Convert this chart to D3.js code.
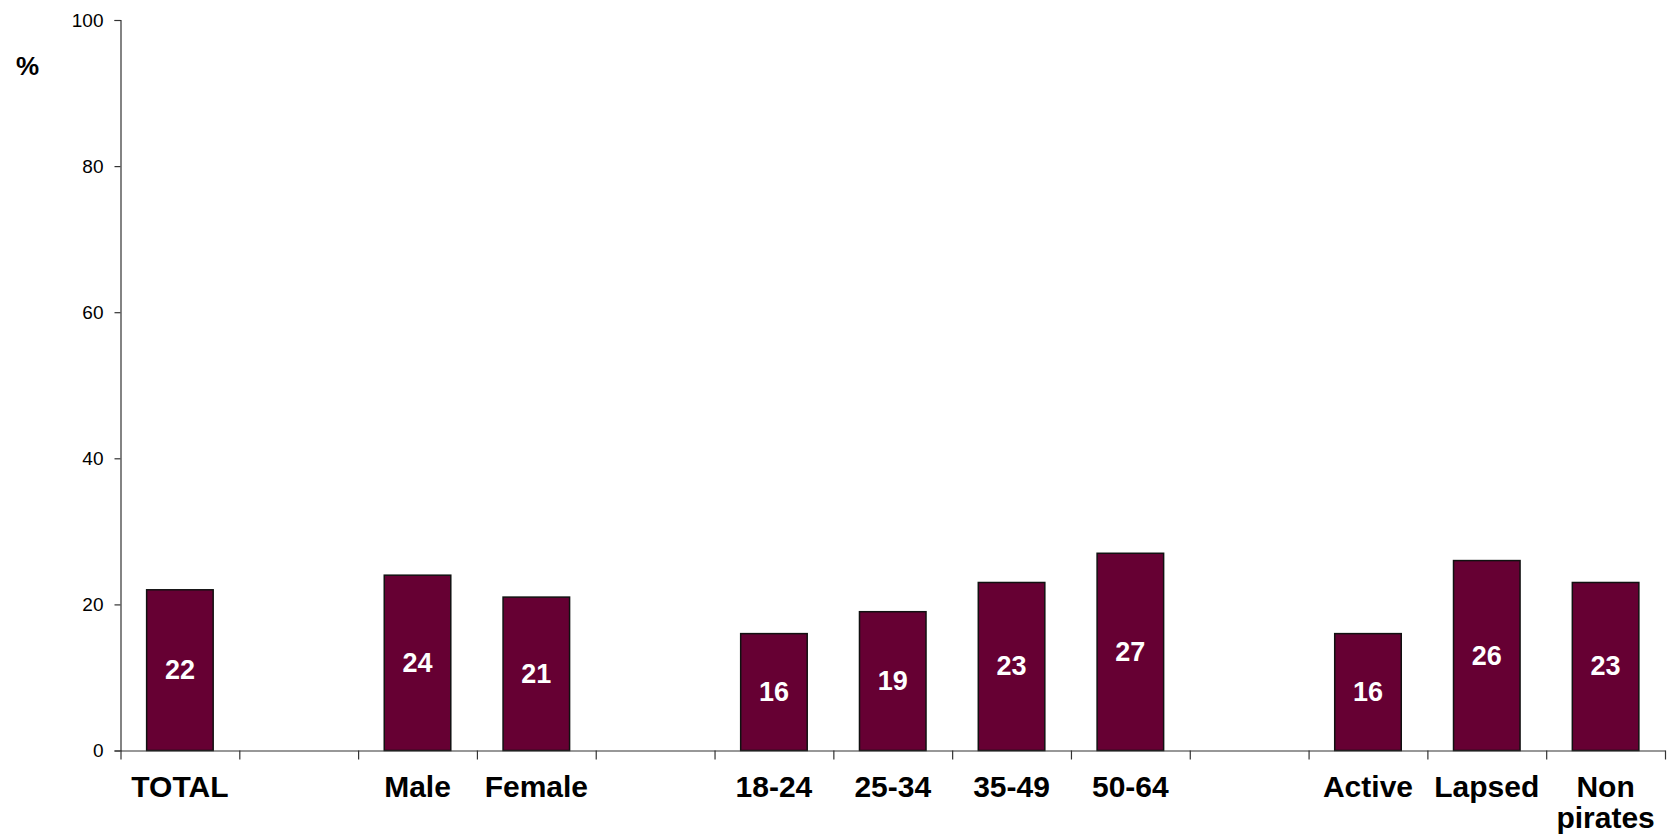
<!DOCTYPE html>
<html>
<head>
<meta charset="utf-8">
<script src="https://cdn.jsdelivr.net/npm/d3@7"></script>
<style>
  html, body { margin: 0; padding: 0; background: #fff; }
  svg { display: block; font-family: Arial, "Liberation Sans", sans-serif; }
</style>
</head>
<body>
<svg id="chart" width="1671" height="836"></svg>
<script>
// ---- data ----
const categories = ["TOTAL", "gap1", "Male", "Female", "gap2", "18-24", "25-34", "35-49", "50-64", "gap3", "Active", "Lapsed", "Non pirates"];
const categoryLabels = [["TOTAL"], [], ["Male"], ["Female"], [], ["18-24"], ["25-34"], ["35-49"], ["50-64"], [], ["Active"], ["Lapsed"], ["Non", "pirates"]];
const values = [22, null, 24, 21, null, 16, 19, 23, 27, null, 16, 26, 23];
const yTicks = [0, 20, 40, 60, 80, 100];
const yLabel = "%";

// ---- layout ----
const svg = d3.select("#chart");
const plotLeft = 120.5, plotRight = 1665, plotTop = 20, plotBottom = 750.5;

const x = d3.scaleBand().domain(categories).range([plotLeft, plotRight]).padding(0);
const xEdge = d3.scaleLinear().domain([0, categories.length]).range([plotLeft, plotRight]);
const y = d3.scaleLinear().domain([0, 100]).range([plotBottom, plotTop]);

const barW = x.bandwidth() * 0.56;
const barColor = "#660033";
const axisColor = "#333";

// y axis
const yAxis = svg.append("g")
  .attr("transform", `translate(${plotLeft},0)`)
  .call(d3.axisLeft(y).tickValues(yTicks).tickSize(6).tickPadding(11).tickFormat(d3.format("d")));
yAxis.select(".domain").attr("stroke", axisColor).attr("stroke-width", 1.2);
yAxis.selectAll(".tick line").attr("stroke", axisColor).attr("stroke-width", 1.2);
yAxis.selectAll(".tick text").attr("font-size", 19).attr("fill", "#000")
  .attr("font-family", "Arial, 'Liberation Sans', sans-serif");

// bars
const data = categories.map((c, i) => ({ c, v: values[i] })).filter(d => d.v != null);
svg.append("g").selectAll("rect").data(data).join("rect")
  .attr("x", d => x(d.c) + (x.bandwidth() - barW) / 2)
  .attr("y", d => y(d.v))
  .attr("width", barW)
  .attr("height", d => y(0) - y(d.v))
  .attr("fill", barColor)
  .attr("stroke", "#111")
  .attr("stroke-width", 1.5);

// value labels
svg.append("g").selectAll("text").data(data).join("text")
  .attr("x", d => x(d.c) + x.bandwidth() / 2)
  .attr("y", d => (y(d.v) + y(0)) / 2)
  .attr("text-anchor", "middle")
  .attr("dominant-baseline", "central")
  .attr("fill", "#fff")
  .attr("font-weight", "bold")
  .attr("font-size", 27)
  .text(d => d.v);

// x axis with ticks at band edges
const xAxis = svg.append("g")
  .attr("transform", `translate(0,${plotBottom})`)
  .call(d3.axisBottom(xEdge).tickValues(d3.range(0, categories.length + 1)).tickSize(9).tickSizeOuter(0).tickFormat(""));
xAxis.select(".domain").attr("stroke", axisColor).attr("stroke-width", 1.2);
xAxis.selectAll(".tick line").attr("stroke", axisColor).attr("stroke-width", 1.2);

// category labels
const catG = svg.append("g");
categories.forEach((c, i) => {
  const lines = categoryLabels[i];
  if (!lines.length) return;
  const cx = x(c) + x.bandwidth() / 2;
  const t = catG.append("text")
    .attr("x", cx)
    .attr("y", 797)
    .attr("text-anchor", "middle")
    .attr("font-weight", "bold")
    .attr("font-size", 30)
    .attr("fill", "#000");
  lines.forEach((l, j) => {
    t.append("tspan").attr("x", cx).attr("dy", j === 0 ? 0 : 31).text(l);
  });
});

// y label
svg.append("text")
  .attr("x", 27.5)
  .attr("y", 75)
  .attr("text-anchor", "middle")
  .attr("font-weight", "bold")
  .attr("font-size", 26)
  .attr("fill", "#000")
  .text(yLabel);
</script>
</body>
</html>
